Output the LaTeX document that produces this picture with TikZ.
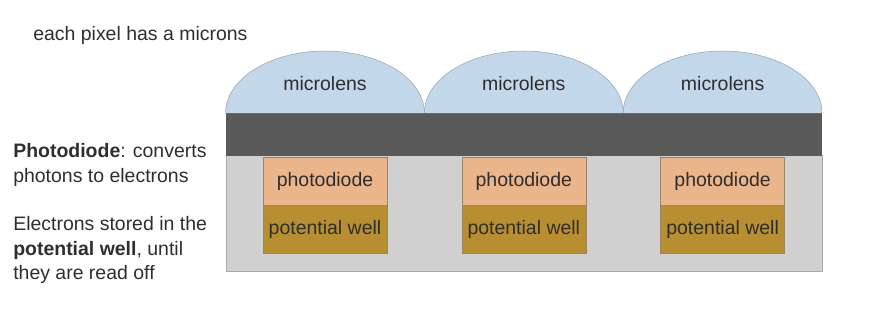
\documentclass[tikz,border=0pt]{standalone}
\usepackage{fontspec}
\setmainfont{Liberation Sans}
\usepackage{tikz}
\usetikzlibrary{positioning}
\definecolor{lensblue}{HTML}{C3D7EB}
\definecolor{lensedge}{HTML}{9AA4AE}
\definecolor{filterdark}{HTML}{595959}
\definecolor{substrate}{HTML}{D1D0D0}
\definecolor{substedge}{HTML}{A9A9A9}
\definecolor{diodepeach}{HTML}{EAB58B}
\definecolor{wellgold}{HTML}{B78F30}
\definecolor{boxedge}{HTML}{9C8462}
\definecolor{txt}{HTML}{2E2E2E}
\tikzset{
  labelfont/.style={font=\fontsize{14.6}{18.3}\selectfont, text=txt},
  pdbox/.style={draw=boxedge, fill=diodepeach, minimum width=93pt,
    minimum height=36pt, inner sep=0pt, labelfont},
  wellbox/.style={pdbox, fill=wellgold},
  sidetext/.style={labelfont, align=left, anchor=north west, inner sep=0pt}
}

\begin{document}
\begin{tikzpicture}[x=0.75pt, y=-0.75pt]
  \useasboundingbox (0,0) rectangle (880,330);
  % substrate and colour filter layer
  \draw[substedge, fill=substrate] (226,155) rectangle (822,271);
  \fill[filterdark] (226,113) rectangle (822,156);
  % three pixels: lens, photodiode, well
  \foreach \i in {0,1,2} {
    \pgfmathsetmacro{\cx}{325+198.8*\i}
    \draw[lensedge, fill=lensblue] (\cx-99.4,113)
      arc[start angle=180, end angle=360, x radius=99.4, y radius=62];
    \node[labelfont] (lens\i) at (\cx,84) {microlens};
    \node[pdbox] (pd\i) at (\cx,181) {photodiode};
    \node[wellbox, below=0pt of pd\i.south, anchor=north] (well\i) {potential well};
  }
  \node[labelfont, anchor=base west, inner sep=0pt] (title) at (33,40) {each pixel has a microns};
  \node[sidetext] (diodenote) at (13,143.5) {\textbf{Photodiode}: converts\\photons to electrons};
  \node[sidetext] (wellnote) at (13,216.5) {Electrons stored in the\\\textbf{potential well}, until\\they are read off};
\end{tikzpicture}
\end{document}
